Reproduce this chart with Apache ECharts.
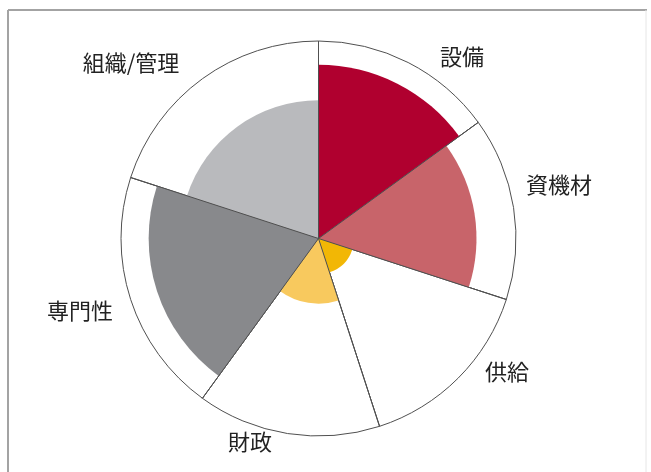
<!DOCTYPE html>
<html>
<head>
<meta charset="utf-8">
<script src="https://cdn.jsdelivr.net/npm/echarts/dist/echarts.min.js"></script>
<style>
  html, body { margin: 0; padding: 0; background: #ffffff; }
  #chart { width: 651px; height: 472px; }
</style>
</head>
<body>
<div id="chart"></div>
<script>
// Capability areas and their scores
const categories = ['設備', '資機材', '供給', '財政', '専門性', '組織/管理'];
// Angular width of each area, in degrees
const spans = [54, 54, 54, 54, 72, 72];
// Score of each area (radius), on a 0–100 scale
const values = [88, 80, 18, 33, 86, 70];
const maxValue = 100;
const colors = ['#b0002f', '#c8646a', '#f2b705', '#f8c95e', '#88898c', '#b9babd'];

// Label anchor points (centre of each label, px)
const labelAnchors = [[462, 57], [559, 185], [507, 372], [250, 442], [80, 311], [131, 63]];

// Build [startAngle, endAngle, value, index] rows
const rows = [];
let acc = 0;
spans.forEach((s, i) => {
  rows.push([acc, acc + s, values[i], i]);
  acc += s;
});

const chart = echarts.init(document.getElementById('chart'), null, { renderer: 'canvas' });
const LINE = '#505050';

function renderSector(params, api) {
  const start = api.value(0);
  const end = api.value(1);
  const v = api.value(2);
  const idx = api.value(3);
  const cs = params.coordSys;
  const outerA = api.coord([maxValue, start]);
  const outerB = api.coord([maxValue, end]);
  const inner = api.coord([v, start]);
  let sa = -outerA[3];
  let ea = -outerB[3];
  if (ea < sa) ea += Math.PI * 2;
  return {
    type: 'group',
    children: [
      {
        type: 'sector',
        shape: { cx: cs.cx, cy: cs.cy, r0: 0, r: outerA[2], startAngle: sa, endAngle: ea, clockwise: true },
        style: { fill: '#ffffff', stroke: LINE, lineWidth: 1 },
        z2: 1
      },
      {
        type: 'sector',
        shape: { cx: cs.cx, cy: cs.cy, r0: 0, r: inner[2], startAngle: sa, endAngle: ea, clockwise: true },
        style: { fill: colors[idx] },
        z2: 2
      },
      {
        type: 'line',
        shape: { x1: cs.cx, y1: cs.cy, x2: outerA[0], y2: outerA[1] },
        style: { stroke: LINE, lineWidth: 1 },
        z2: 10
      }
    ]
  };
}

const graphics = [
  // frame
  { type: 'line', shape: { x1: 8, y1: 10, x2: 647, y2: 10 }, style: { stroke: '#a3a3a3', lineWidth: 2 } },
  { type: 'line', shape: { x1: 8, y1: 10, x2: 8, y2: 472 }, style: { stroke: '#a3a3a3', lineWidth: 2 } },
  { type: 'line', shape: { x1: 646, y1: 10, x2: 646, y2: 472 }, style: { stroke: '#e6e6e6', lineWidth: 1 } }
];
categories.forEach((c, i) => {
  graphics.push({
    type: 'text',
    x: labelAnchors[i][0],
    y: labelAnchors[i][1],
    style: {
      text: c,
      fill: '#222222',
      font: '22px "Noto Sans CJK JP", "Noto Sans", sans-serif',
      textAlign: 'center',
      textVerticalAlign: 'middle'
    }
  });
});

chart.setOption({
  animation: false,
  backgroundColor: '#ffffff',
  polar: { center: [318.5, 238.5], radius: 197.5 },
  angleAxis: { type: 'value', min: 0, max: 360, startAngle: 90, clockwise: true, show: false },
  radiusAxis: { type: 'value', min: 0, max: maxValue, show: false },
  graphic: graphics,
  series: [{
    type: 'custom',
    coordinateSystem: 'polar',
    encode: { radius: 2, angle: [0, 1] },
    renderItem: renderSector,
    data: rows
  }]
});
</script>
</body>
</html>
